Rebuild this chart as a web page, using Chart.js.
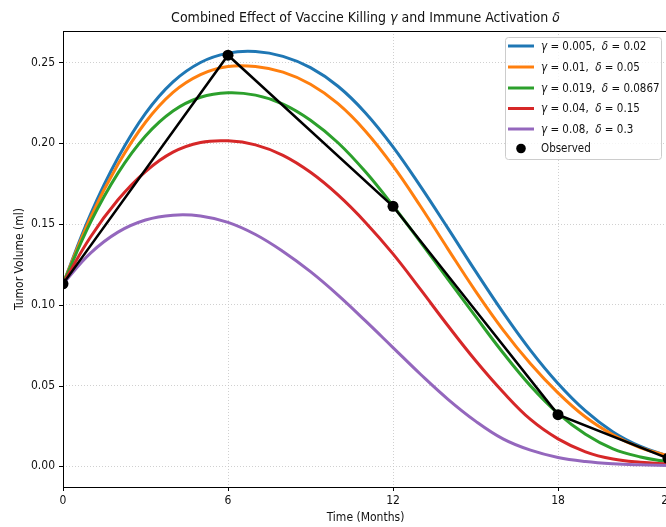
<!DOCTYPE html>
<html>
<head>
<meta charset="utf-8">
<script src="https://cdn.jsdelivr.net/npm/chart.js@4/dist/chart.umd.min.js"></script>
<style>
  html, body { margin: 0; padding: 0; overflow: hidden; background: #fff; }
</style>
</head>
<body>
<canvas id="tumorChart" width="676" height="527"></canvas>
<script>
// --- data ---
const months = [0, 1, 2, 3, 4, 5, 6, 7, 8, 9, 10, 11, 12, 13, 14, 15, 16, 17, 18, 19, 20, 21, 22];

const g005 = [0.113, 0.156, 0.191, 0.2185, 0.238, 0.250, 0.2558, 0.2568, 0.2538, 0.2468, 0.2353, 0.2188,
              0.1978, 0.1733, 0.1473, 0.1208, 0.0953, 0.0718, 0.0513, 0.0343, 0.0213, 0.0123, 0.0063];
const g01  = [0.113, 0.154, 0.187, 0.213, 0.2315, 0.2425, 0.2475, 0.2475, 0.244, 0.2365, 0.2245, 0.2075,
              0.186, 0.161, 0.1345, 0.1085, 0.0845, 0.0635, 0.0455, 0.0305, 0.0195, 0.0115, 0.0065];
const g019 = [0.113, 0.151, 0.1815, 0.2045, 0.220, 0.2285, 0.2313, 0.2298, 0.2243, 0.2143, 0.2003, 0.1823,
              0.1613, 0.1388, 0.1158, 0.0928, 0.0703, 0.0498, 0.0328, 0.0198, 0.0108, 0.0058, 0.0028];
const g04  = [0.113, 0.142, 0.165, 0.1825, 0.1945, 0.2005, 0.2015, 0.199, 0.1925, 0.182, 0.168, 0.151,
              0.1315, 0.1095, 0.087, 0.0655, 0.046, 0.029, 0.017, 0.009, 0.0045, 0.0025, 0.0015];
const g08  = [0.113, 0.132, 0.145, 0.1525, 0.1555, 0.155, 0.151, 0.1435, 0.133, 0.1205, 0.106, 0.090,
              0.0735, 0.057, 0.0415, 0.028, 0.017, 0.010, 0.0055, 0.003, 0.0016, 0.0009, 0.0005];

const obsMonths = [0, 6, 12, 18, 22];
const observed  = [0.113, 0.2545, 0.161, 0.032, 0.005];

const xTicks = [0, 6, 12, 18, 22];
const yTicks = [0.00, 0.05, 0.10, 0.15, 0.20, 0.25];

// legend text parts: [text, italic]
const seriesLabels = [
  [['γ', 1], [' = 0.005,  ', 0], ['δ', 1], [' = 0.02', 0]],
  [['γ', 1], [' = 0.01,  ', 0], ['δ', 1], [' = 0.05', 0]],
  [['γ', 1], [' = 0.019,  ', 0], ['δ', 1], [' = 0.0867', 0]],
  [['γ', 1], [' = 0.04,  ', 0], ['δ', 1], [' = 0.15', 0]],
  [['γ', 1], [' = 0.08,  ', 0], ['δ', 1], [' = 0.3', 0]]
];
const seriesData = [g005, g01, g019, g04, g08];
const seriesColors = ['#1f77b4', '#ff7f0e', '#2ca02c', '#d62728', '#9467bd'];

const FONT = "'DejaVu Sans Condensed', 'DejaVu Sans', sans-serif";

// --- helpers ---
function richWidth(ctx, parts, size) {
  let w = 0;
  parts.forEach(([t, it]) => {
    ctx.font = (it ? 'italic ' : '') + size + 'px ' + FONT;
    w += ctx.measureText(t).width;
  });
  return w;
}
function drawRich(ctx, parts, x, y, size) {
  parts.forEach(([t, it]) => {
    ctx.font = (it ? 'italic ' : '') + size + 'px ' + FONT;
    ctx.fillText(t, x, y);
    x += ctx.measureText(t).width;
  });
}

const decor = {
  id: 'decor',
  afterDraw(chart) {
    const { ctx, chartArea: a, scales: { x, y } } = chart;
    ctx.save();

    // spines
    ctx.strokeStyle = '#000';
    ctx.lineWidth = 1;
    ctx.strokeRect(Math.round(a.left) + 0.5, Math.round(a.top) + 0.5,
                   Math.round(a.right - a.left), Math.round(a.bottom - a.top));

    // tick marks
    ctx.beginPath();
    xTicks.forEach(v => {
      const px = Math.round(x.getPixelForValue(v)) + 0.5;
      ctx.moveTo(px, a.bottom); ctx.lineTo(px, a.bottom + 4);
    });
    yTicks.forEach(v => {
      const py = Math.round(y.getPixelForValue(v)) + 0.5;
      ctx.moveTo(a.left - 4, py); ctx.lineTo(a.left, py);
    });
    ctx.stroke();

    ctx.fillStyle = '#111';
    ctx.textBaseline = 'middle';

    // title
    const title = [['Combined Effect of Vaccine Killing ', 0], ['γ', 1], [' and Immune Activation ', 0], ['δ', 1]];
    const tw = richWidth(ctx, title, 14);
    drawRich(ctx, title, (a.left + a.right) / 2 - tw / 2, 18, 14);

    // axis titles
    ctx.font = '12px ' + FONT;
    ctx.textAlign = 'center';
    ctx.fillText('Time (Months)', (a.left + a.right) / 2, 518);
    ctx.save();
    ctx.translate(20, (a.top + a.bottom) / 2);
    ctx.rotate(-Math.PI / 2);
    ctx.fillText('Tumor Volume (ml)', 0, 0);
    ctx.restore();
    ctx.textAlign = 'left';

    // legend
    const lx = 505, ly = 37, lw = 156, lh = 122;
    ctx.fillStyle = 'rgba(255,255,255,0.8)';
    ctx.strokeStyle = '#cccccc';
    ctx.lineWidth = 1;
    ctx.beginPath();
    ctx.roundRect(lx + 0.5, ly + 0.5, lw, lh, 3);
    ctx.fill();
    ctx.stroke();

    const rows = [46, 67, 88, 108.5, 129, 148.5];
    seriesLabels.forEach((parts, i) => {
      ctx.strokeStyle = seriesColors[i];
      ctx.lineWidth = 3;
      ctx.beginPath();
      ctx.moveTo(508, rows[i]); ctx.lineTo(534, rows[i]);
      ctx.stroke();
      ctx.fillStyle = '#111';
      drawRich(ctx, parts, 541, rows[i] + 1, 11.5);
    });
    ctx.fillStyle = '#000';
    ctx.beginPath();
    ctx.arc(521, rows[5], 4.8, 0, Math.PI * 2);
    ctx.fill();
    ctx.fillStyle = '#111';
    ctx.font = '11.5px ' + FONT;
    ctx.fillText('Observed', 541, rows[5] + 1);

    ctx.restore();
  }
};

const datasets = seriesData.map((vals, i) => ({
  label: 'series' + i,
  data: months.map((m, j) => ({ x: m, y: vals[j] })),
  borderColor: seriesColors[i],
  borderWidth: 3,
  pointRadius: 0,
  tension: 0.4,
  fill: false,
  clip: 0,
  order: seriesData.length - i
}));
datasets.push({
  label: 'Observed',
  data: obsMonths.map((m, j) => ({ x: m, y: observed[j] })),
  borderColor: '#000',
  backgroundColor: '#000',
  borderWidth: 2.5,
  pointRadius: 5.5,
  pointBorderWidth: 0,
  tension: 0,
  fill: false,
  clip: 0,
  order: 0
});

new Chart(document.getElementById('tumorChart'), {
  type: 'line',
  data: { datasets },
  options: {
    responsive: false,
    animation: false,
    events: [],
    layout: { padding: { left: 0, top: 31, right: 8, bottom: 0 } },
    plugins: { legend: { display: false }, tooltip: { enabled: false }, title: { display: false } },
    scales: {
      x: {
        type: 'linear',
        min: 0,
        max: 22,
        afterBuildTicks: s => { s.ticks = xTicks.map(v => ({ value: v })); },
        afterFit: s => { s.height = 40; s.paddingLeft = 0; s.paddingRight = 0; },
        ticks: { color: '#111', padding: 7, maxRotation: 0, font: { family: FONT, size: 12 } },
        grid: { color: '#c4c4c4', lineWidth: 0.8, drawTicks: false },
        border: { display: false, dash: [1, 2] }
      },
      y: {
        type: 'linear',
        min: -0.0128,
        max: 0.2695,
        afterBuildTicks: s => { s.ticks = yTicks.map(v => ({ value: v })); },
        afterFit: s => { s.width = 63; },
        ticks: { color: '#111', padding: 8, callback: v => v.toFixed(2), font: { family: FONT, size: 12 } },
        grid: { color: '#c4c4c4', lineWidth: 0.8, drawTicks: false },
        border: { display: false, dash: [1, 2] }
      }
    }
  },
  plugins: [decor]
});
</script>
</body>
</html>
